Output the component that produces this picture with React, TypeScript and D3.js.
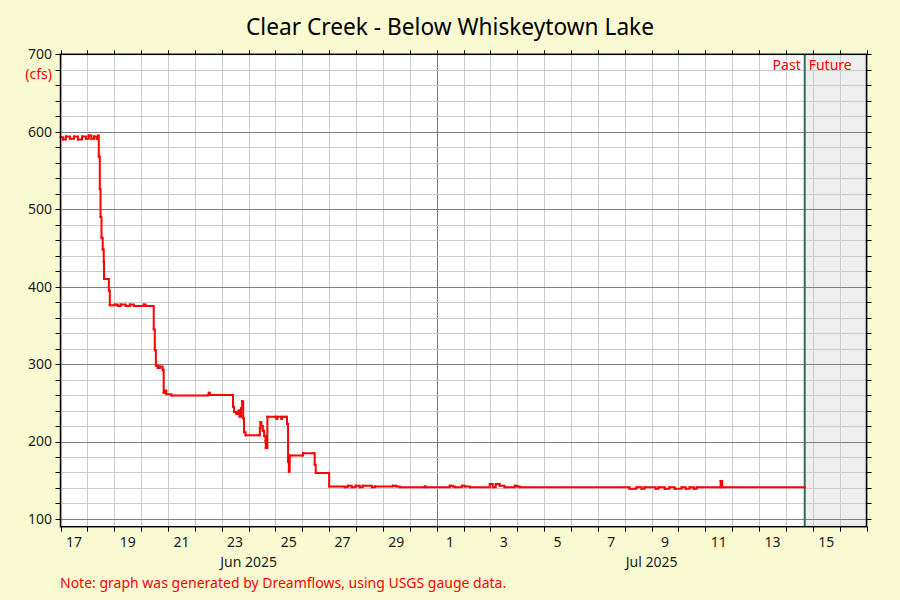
import React from "react";
import * as d3 from "d3";

const TITLE = "Clear Creek - Below Whiskeytown Lake";
const UNITS = "(cfs)";
const NOTE = "Note: graph was generated by Dreamflows, using USGS gauge data.";

const START = Date.UTC(2025, 5, 17);
const END = Date.UTC(2025, 6, 17);
const JUL1 = Date.UTC(2025, 6, 1);
const NOW_OFFSET = 27.7; // days after Jun 17 00:00

// days after Jun 17 00:00
const dayOffsets = [
  0.0, 0.1, 0.2, 0.35, 0.5, 0.65, 0.8, 0.95, 1.05, 1.15, 1.25, 1.35, 1.4,
  1.425, 1.463, 1.49, 1.526, 1.57, 1.61, 1.62, 1.77, 1.8, 1.835,
  2.02, 2.13, 2.24, 2.43, 2.58, 2.73, 3.1, 3.17, 3.42,
  3.47, 3.51, 3.55, 3.62, 3.7, 3.8, 3.82, 3.84, 3.88, 3.94, 4.13,
  5.48, 5.52, 5.56, 6.4,
  6.42, 6.46, 6.55, 6.63, 6.67, 6.72, 6.76, 6.8, 6.83, 6.89, 7.39,
  7.42, 7.44, 7.48, 7.53, 7.58, 7.63, 7.64, 7.7, 8.01, 8.04, 8.07, 8.22, 8.25, 8.38,
  8.43, 8.47, 8.5, 8.53, 8.99, 9.03, 9.43, 9.46, 9.5, 9.96, 10.0,
  10.58, 10.69, 10.84, 10.99, 11.14, 11.25, 11.59, 11.7, 12.37, 12.5, 12.63, 13.56, 13.6,
  14.49, 14.6, 14.68, 14.94, 15.05, 15.24, 15.98, 16.09, 16.2, 16.35, 16.53, 16.91, 17.0, 17.09,
  21.18, 21.44, 21.63, 21.74, 22.15, 22.26, 22.49, 22.67, 22.86, 23.12, 23.27,
  23.42, 23.57, 23.68, 24.54, 24.57, 24.63, 27.7,
];
const flows = [
  593, 590, 594, 591, 594, 590, 594, 591, 595, 591, 594, 591, 595,
  568, 526, 490, 463, 448, 432, 410, 410, 395, 376,
  377, 375, 377, 375, 377, 375, 377, 375, 375,
  345, 318, 298, 295, 297, 293, 292, 263, 266, 261, 259.5,
  260, 263, 260, 260,
  245, 238, 235.5, 240, 232, 243, 252, 230, 212, 208, 208,
  217, 225, 220, 214, 207, 201, 191.6, 232, 232, 229.5, 232, 229.5, 232, 232,
  222.6, 174, 161, 182, 182, 185, 185, 170, 159.5, 159.5, 142,
  141, 143, 141, 143, 141, 143, 141, 142, 143, 142, 141, 142, 141,
  143, 142, 141, 143, 142, 141, 145, 141, 145, 143, 141, 143, 142, 141,
  139, 141, 139, 141, 139, 141, 139, 141, 139, 141, 139,
  141, 139, 141, 141, 149, 141, 141,
];

const yGridValues = d3.range(100, 701, 20);
const yTickLabels = [100, 200, 300, 400, 500, 600, 700];
const xTickLabels = ["17", "19", "21", "23", "25", "27", "29", "1", "3", "5", "7", "9", "11", "13", "15"];
const monthLabels = ["Jun 2025", "Jul 2025"];

const FONT = "'Noto Sans', 'Open Sans', sans-serif";
const BG = "#fafad2";

export default function App() {
  const W = 900;
  const H = 600;
  const left = 60.5;
  const right = 866.5;
  const top = 54.3;
  const bottom = 526.7;

  const x = d3.scaleUtc().domain([new Date(START), new Date(END)]).range([left, right]);
  const y = d3.scaleLinear().domain([90, 700]).range([bottom, top]);
  const toDate = (d: number) => new Date(START + d * 864e5);

  const days = d3.utcDay.range(new Date(START), new Date(END + 1));
  const pts = dayOffsets.map((d, i) => [x(toDate(d)), y(flows[i])] as [number, number]);
  const line = d3.line().curve(d3.curveStepAfter)(pts) || "";
  const nowX = x(toDate(NOW_OFFSET));
  const px = (v: number) => Math.round(v) + 0.5;

  return (
    <svg
      width={W}
      height={H}
      style={{ position: "absolute", left: 0, top: 0, fontFamily: FONT }}
    >
      <rect x={0} y={0} width={W} height={H} fill={BG} />
      <rect x={left} y={top} width={right - left} height={bottom - top} fill="#ffffff" />
      <rect x={nowX} y={top} width={right - nowX} height={bottom - top} fill="#eeeeee" />

      {/* vertical grid */}
      {days.map((d, i) => {
        const xx = px(x(d));
        const major = +d === JUL1;
        return (
          <line key={"vg" + i} x1={xx} x2={xx} y1={top} y2={bottom}
            stroke={major ? "#777777" : "#cccccc"} strokeWidth={1} />
        );
      })}
      {/* horizontal grid */}
      {yGridValues.map((v) => {
        const yy = px(y(v));
        const major = v % 100 === 0;
        return (
          <line key={"hg" + v} x1={left} x2={right} y1={yy} y2={yy}
            stroke={major ? "#808080" : "#cccccc"} strokeWidth={1} />
        );
      })}

      {/* now line */}
      <line x1={nowX} x2={nowX} y1={top} y2={bottom} stroke="#2f6e5c" strokeWidth={2} />

      {/* data */}
      <path d={line} fill="none" stroke="#ff0000" strokeWidth={2} strokeLinejoin="miter" />
      {pts.map((p, i) => (
        <rect key={"m" + i} x={p[0] - 1} y={p[1] - 1} width={2} height={2} fill="#ff0000" />
      ))}

      {/* frame */}
      <rect x={left} y={top} width={right - left} height={bottom - top} fill="none" stroke="#000" strokeWidth={1.5} />

      {/* y ticks */}
      {yGridValues.map((v) => {
        const yy = px(y(v));
        return (
          <g key={"yt" + v}>
            <line x1={left - 5} x2={left} y1={yy} y2={yy} stroke="#000" />
            <line x1={right} x2={right + 5} y1={yy} y2={yy} stroke="#000" />
          </g>
        );
      })}
      {yTickLabels.map((v) => (
        <text key={"yl" + v} x={52} y={y(v)} dy="0.35em" textAnchor="end" fontSize={14} fill="#1a1a1a">
          {v}
        </text>
      ))}
      <text x={52} y={74} dy="0.35em" textAnchor="end" fontSize={14} fill="#ff0000">{UNITS}</text>

      {/* x ticks */}
      {days.map((d, i) => {
        const xx = px(x(d));
        return (
          <g key={"xt" + i}>
            <line x1={xx} x2={xx} y1={bottom} y2={bottom + 5} stroke="#000" />
            <line x1={xx} x2={xx} y1={top - 4} y2={top} stroke="#000" />
          </g>
        );
      })}
      {xTickLabels.map((lab, i) => {
        const d = toDate(i * 2 + 0.5);
        return (
          <text key={"xl" + i} x={x(d)} y={547} textAnchor="middle" fontSize={14} fill="#1a1a1a">
            {lab}
          </text>
        );
      })}
      <text x={(x(new Date(START)) + x(new Date(JUL1))) / 2} y={567} textAnchor="middle" fontSize={14} fill="#1a1a1a">
        {monthLabels[0]}
      </text>
      <text x={(x(new Date(JUL1)) + x(new Date(END))) / 2} y={567} textAnchor="middle" fontSize={14} fill="#1a1a1a">
        {monthLabels[1]}
      </text>

      {/* past / future */}
      <text x={nowX - 4} y={70} textAnchor="end" fontSize={14} fill="#ff0000">Past</text>
      <text x={nowX + 4} y={70} textAnchor="start" fontSize={14} fill="#ff0000">Future</text>

      {/* title and note */}
      <text x={450} y={35} textAnchor="middle" fontSize={22.7} fill="#000">{TITLE}</text>
      <text x={60} y={588} fontSize={14} fill="#ff0000">{NOTE}</text>
    </svg>
  );
}
